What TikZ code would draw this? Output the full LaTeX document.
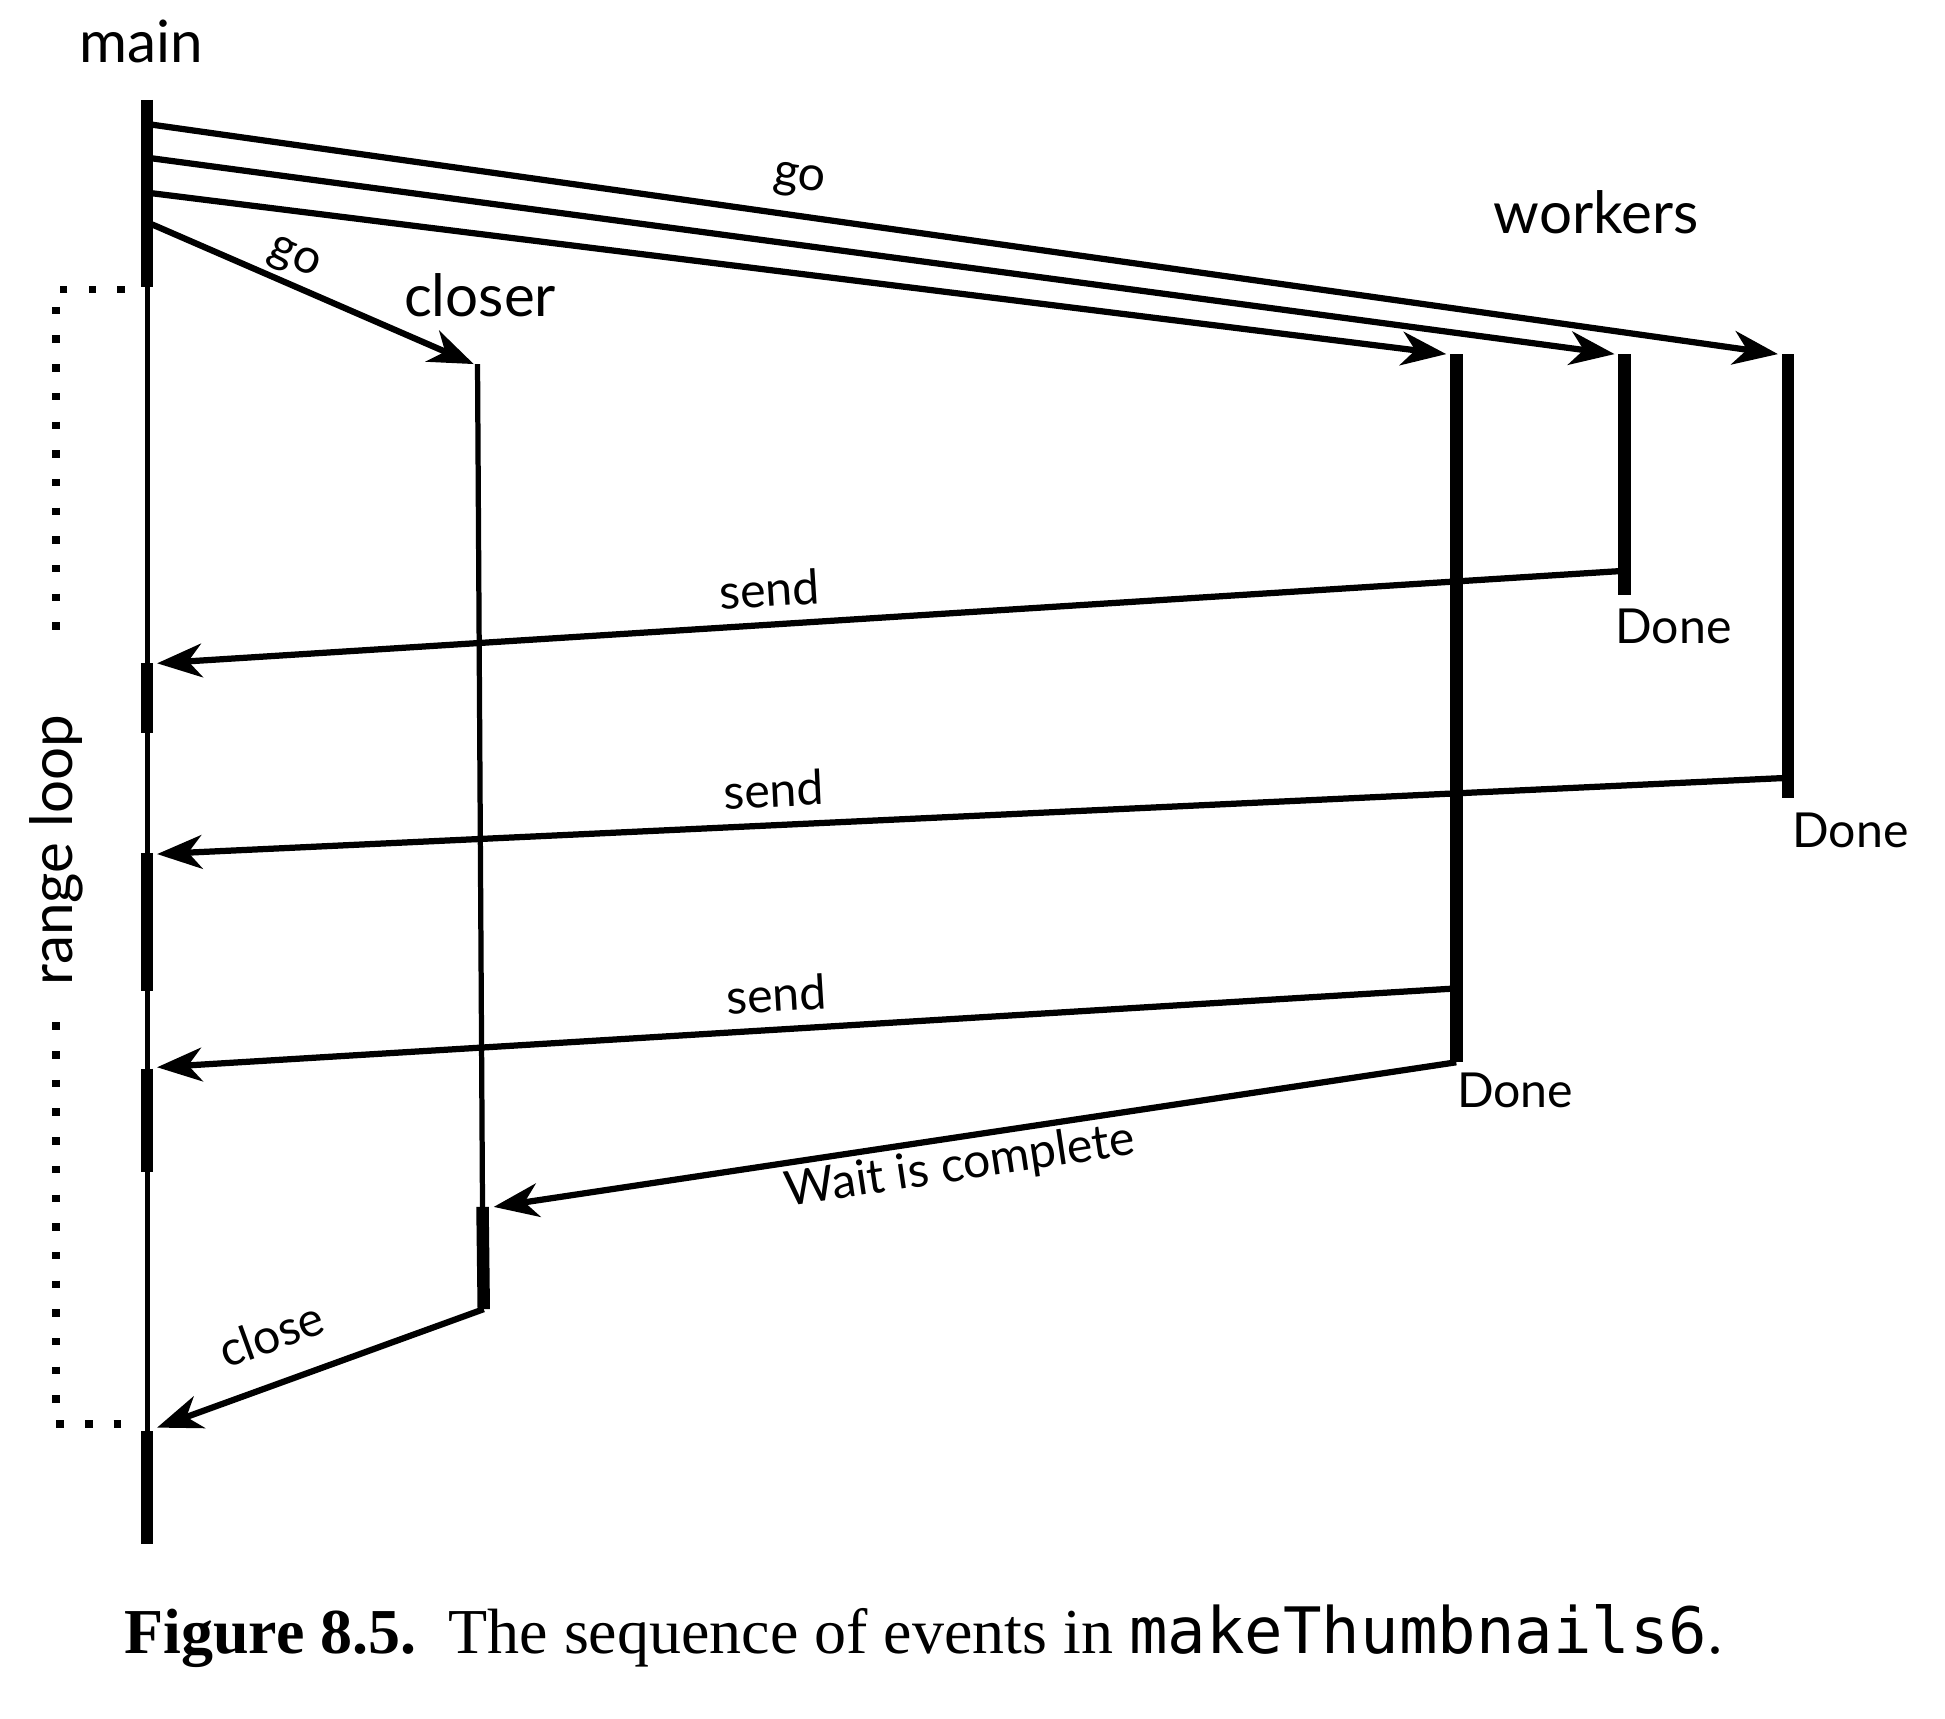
\documentclass[tikz,border=0pt]{standalone}
\usepackage{fontspec}
\setmainfont{Liberation Serif}
\setsansfont{Lato}
\setmonofont{DejaVu Sans Mono}
\usetikzlibrary{arrows.meta}

\begin{document}
\begin{tikzpicture}[x=0.01cm,y=-0.01cm,
    msg/.style={-{Stealth[length=0.36cm,width=0.27cm,inset=0.11cm]},line width=0.05cm},
    life/.style={line width=0.042cm},
    busy/.style={line width=0.1cm},
    loopdots/.style={line width=0.06cm,dash pattern=on 0.06cm off 0.17cm},
    big/.style={font=\sffamily\fontsize{13.3}{16}\selectfont},
    small/.style={font=\sffamily\fontsize{11}{13}\selectfont}]
  \useasboundingbox (0,0) rectangle (1560,1378);
  % lifeline points
  \coordinate (m0) at (118,80);  \coordinate (m1) at (118,230);
  \coordinate (m2) at (118,1148); \coordinate (m3) at (118,1238);
  \coordinate (c0) at (383,292); \coordinate (c1) at (387,968); \coordinate (c2) at (388,1050);
  \coordinate (w1a) at (1168,284); \coordinate (w1b) at (1168,852);
  \coordinate (w2a) at (1303,284); \coordinate (w2b) at (1303,477);
  \coordinate (w3a) at (1434,284); \coordinate (w3b) at (1434,640);
  % labels
  \node[big] (main) at (113,33) {main};
  \node[big] (closer) at (385,237) {closer};
  \node[big] (workers) at (1280,170) {workers};
  \node[small,anchor=north west,inner sep=0pt] (done2) at (1295,488) {Done};
  \node[small,anchor=north west,inner sep=0pt] (done3) at (1437,651) {Done};
  \node[small,anchor=north west,inner sep=0pt] (done1) at (1168,860) {Done};
  % main
  \draw[busy] (m0) -- (m1);
  \draw[life] (m1) -- (m2);
  \draw[busy] (m2) -- (m3);
  \foreach \a/\b in {532/588,684/795,857/940}
    \draw[busy] (118,\a) -- (118,\b);
  % closer
  \draw[life] (c0) -- (c1);
  \draw[busy] (c1) -- (c2);
  % workers
  \draw[busy] (w1a) -- (w1b);
  \draw[busy] (w2a) -- (w2b);
  \draw[busy] (w3a) -- (w3b);
  % go
  \coordinate (g1) at (122,100); \coordinate (g2) at (122,127);
  \coordinate (g3) at (122,155); \coordinate (g4) at (122,180);
  \draw[msg] (g1) -- ([xshift=-0.08cm]w3a) node[pos=0.395,above,sloped,small]{go};
  \draw[msg] (g2) -- ([xshift=-0.08cm]w2a);
  \draw[msg] (g3) -- ([xshift=-0.08cm]w1a);
  \draw[msg] (g4) -- ([xshift=-0.03cm]c0) node[pos=0.41,above,sloped,small,inner sep=1pt]{go};
  % send
  \coordinate (s1) at (1300,458); \coordinate (r1) at (126,532);
  \coordinate (s2) at (1431,624); \coordinate (r2) at (126,685);
  \coordinate (s3) at (1164,793); \coordinate (r3) at (126,856);
  \draw[msg] (s1) -- (r1) node[pos=0.58,above,sloped,small]{send};
  \draw[msg] (s2) -- (r2) node[pos=0.62,above,sloped,small]{send};
  \draw[msg] (s3) -- (r3) node[pos=0.52,above,sloped,small]{send};
  % wait, close
  \coordinate (wt) at (396,968); \coordinate (cl) at (126,1145);
  \draw[msg] (w1b) -- (wt) node[pos=0.52,below,sloped,small,yshift=0.08cm]{Wait is complete};
  \draw[msg] (c2) -- (cl) node[pos=0.6,above,sloped,small,yshift=0.19cm,inner sep=1pt]{close};
  % range loop
  \draw[loopdots] (100,232) -- (45,232) -- (45,520);
  \draw[loopdots] (45,820) -- (45,1142) -- (112,1142);
  \node[big,rotate=90] (loop) at (45,682) {range loop};
  % caption
  \node[font=\fontsize{14.6}{18}\selectfont] (cap) at (741,1312)
    {\textbf{Figure 8.5.}\enspace The sequence of events in \texttt{makeThumbnails6}.};
\end{tikzpicture}
\end{document}
